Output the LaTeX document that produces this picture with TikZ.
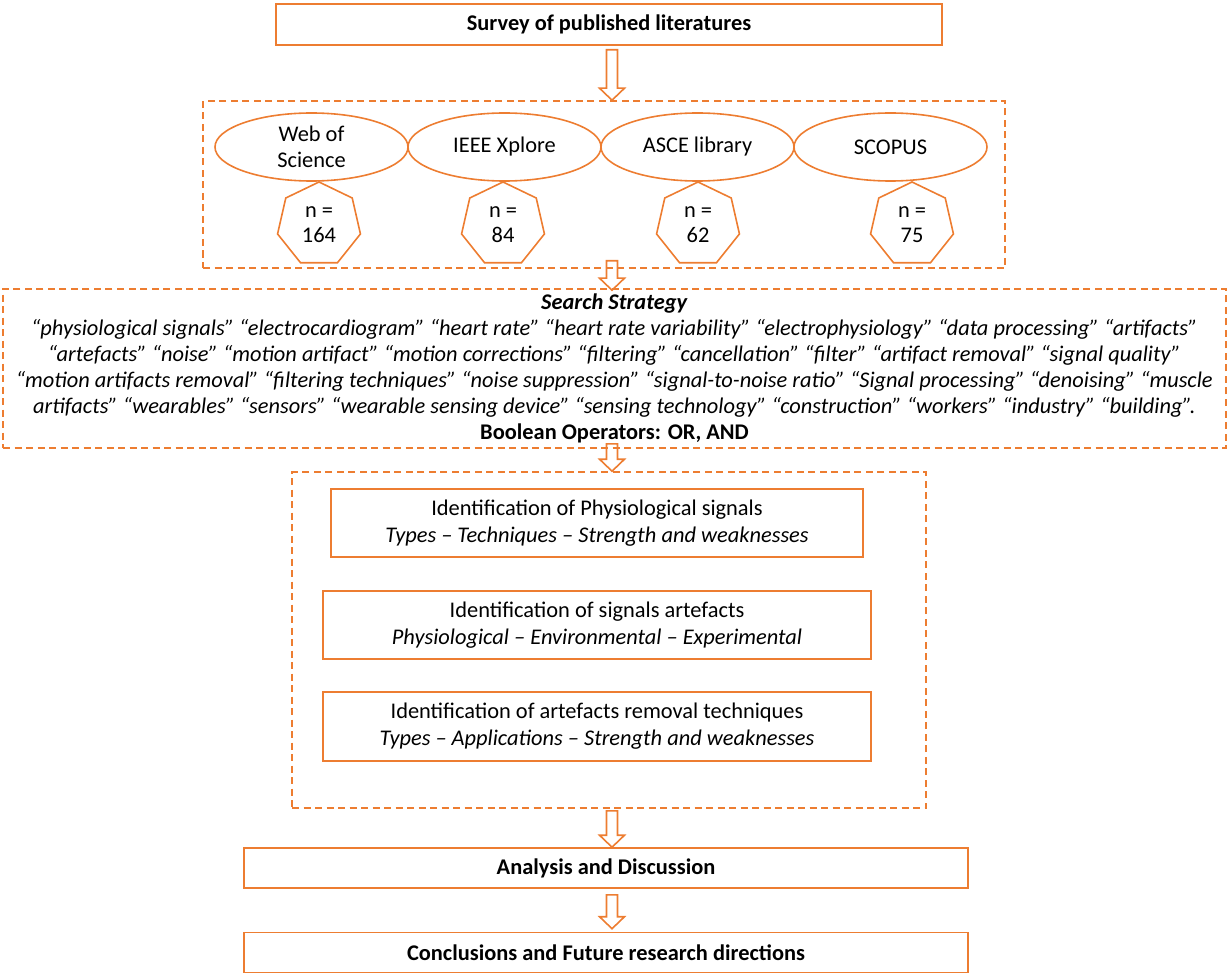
\documentclass[tikz,border=0pt]{standalone}
\usepackage{fontspec}
\setmainfont{Carlito}
\usetikzlibrary{shapes.geometric,calc}
\definecolor{orng}{HTML}{ED7D31}

\begin{document}
\begin{tikzpicture}[x=1pt, y=1pt, font=\fontsize{22.4}{26}\selectfont,
    box/.style={draw=orng, line width=1.6pt, inner sep=0pt, align=center},
    dbox/.style={draw=orng, line width=1.6pt, dash pattern=on 7pt off 4.5pt, inner sep=0pt},
    db/.style={draw=orng, line width=1.6pt, ellipse, minimum width=193pt, minimum height=68pt, inner sep=0pt, align=center},
    hept/.style={draw=orng, line width=1.6pt, regular polygon, regular polygon sides=7, minimum size=85pt, inner sep=0pt, align=center, font=\fontsize{22.4}{25}\selectfont},
    hollow/.style={draw=orng, line width=1.6pt, line join=miter, to path={let \p1=(\tikztostart), \p2=(\tikztotarget) in
        (\x1-5.5pt,\y1) -- (\x1-5.5pt,\y2+12pt) -- (\x1-12.5pt,\y2+12pt) -- (\x1,\y2)
        -- (\x1+12.5pt,\y2+12pt) -- (\x1+5.5pt,\y2+12pt) -- (\x1+5.5pt,\y1) -- cycle}}]
    \useasboundingbox (0,0) rectangle (1229,-976);
    \coordinate (axis) at (612,0);

    \node[box, minimum width=666pt, minimum height=41pt, font=\fontsize{22.4}{26}\selectfont\bfseries] (survey) at (609,-24.5) {Survey of published literatures};

    \node[dbox, minimum width=802pt, minimum height=167pt] (lit) at (604,-184.5) {};
    \node[db] (wos) at (311.5,-147) {Web of\\Science};
    \node[db] (ieee) at (504.5,-147) {IEEE Xplore};
    \node[db] (asce) at (697.5,-147) {ASCE library};
    \node[db] (scopus) at (890.5,-147) {SCOPUS};
    \node[hept] (nwos) at (319,-224.5) {n =\\164};
    \node[hept] (nieee) at (503,-224.5) {n =\\84};
    \node[hept] (nasce) at (698,-224.5) {n =\\62};
    \node[hept] (nscopus) at (912,-224.5) {n =\\75};

    \node[dbox, minimum width=1223pt, minimum height=159pt, align=center] (strategy) at (614.5,-368.5) {%
        \textbf{\textit{Search Strategy}}\\
        \textit{“physiological signals” “electrocardiogram” “heart rate” “heart rate variability” “electrophysiology” “data processing” “artifacts”}\\
        \textit{“artefacts” “noise” “motion artifact” “motion corrections” “filtering” “cancellation” “filter” “artifact removal” “signal quality”}\\
        \textit{“motion artifacts removal” “filtering techniques” “noise suppression” “signal-to-noise ratio” “Signal processing” “denoising” “muscle}\\
        \textit{artifacts” “wearables” “sensors” “wearable sensing device” “sensing technology” “construction” “workers” “industry” “building”.}\\
        \textbf{Boolean Operators: OR, AND}};

    \node[dbox, minimum width=634pt, minimum height=336pt] (steps) at (609,-640) {};
    \node[box, minimum width=532pt, minimum height=68pt, font=\fontsize{22.4}{27}\selectfont] (phys) at (597,-523) {Identification of Physiological signals\\\textit{Types – Techniques – Strength and weaknesses}};
    \node[box, minimum width=548pt, minimum height=68pt, font=\fontsize{22.4}{27}\selectfont] (arte) at (597,-625) {Identification of signals artefacts\\\textit{Physiological – Environmental – Experimental}};
    \node[box, minimum width=548pt, minimum height=69pt, font=\fontsize{22.4}{27}\selectfont] (remv) at (597,-726.5) {Identification of artefacts removal techniques\\\textit{Types – Applications – Strength and weaknesses}};

    \node[box, minimum width=724pt, minimum height=40pt, font=\fontsize{22.4}{26}\selectfont\bfseries] (analysis) at (606,-868) {Analysis and Discussion};
    \node[box, minimum width=724pt, minimum height=40pt, font=\fontsize{22.4}{26}\selectfont\bfseries] (concl) at (606,-952.5) {Conclusions and Future research directions};

    \draw[hollow] ($(survey.south -| axis)+(0,-4)$) to (lit.north -| axis);
    \draw[hollow] ($(lit.south -| axis)+(0,8)$) to ($(strategy.north -| axis)+(0,-2)$);
    \draw[hollow] ($(strategy.south -| axis)+(0,5)$) to (steps.north -| axis);
    \draw[hollow] ($(steps.south -| axis)+(0,-2)$) to (analysis.north -| axis);
    \draw[hollow] ($(analysis.south -| axis)+(0,-6)$) to ($(concl.north -| axis)+(0,3)$);
\end{tikzpicture}
\end{document}
